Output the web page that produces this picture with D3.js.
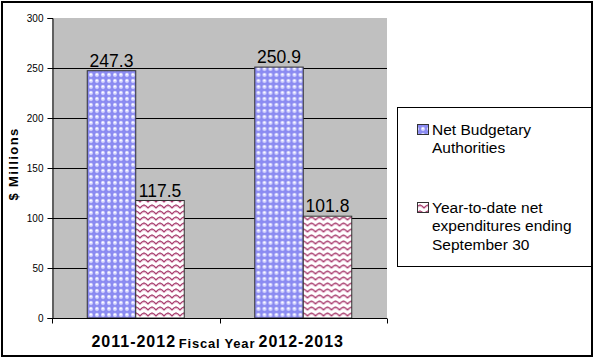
<!DOCTYPE html>
<html>
<head>
<meta charset="utf-8">
<script src="https://cdn.jsdelivr.net/npm/d3@7"></script>
<style>
  html, body { margin: 0; padding: 0; background: #ffffff; }
  svg { display: block; font-family: "Liberation Sans", Arial, sans-serif; }
</style>
</head>
<body>
<svg id="chart" width="595" height="360"></svg>
<script>
const categories = ["2011-2012", "2012-2013"];
const seriesNames = ["Net Budgetary Authorities", "Year-to-date net expenditures ending September 30"];
const netBudgetary = [247.3, 250.9];
const ytdExpenditures = [117.5, 101.8];
const yTicks = [0, 50, 100, 150, 200, 250, 300];
const legendLines = [["Net Budgetary", "Authorities"], ["Year-to-date net", "expenditures ending", "September 30"]];

const svg = d3.select("#chart");
const defs = svg.append("defs");

// Blue circle pattern
const pb = defs.append("pattern").attr("id", "pBlue").attr("patternUnits", "userSpaceOnUse")
  .attr("width", 6).attr("height", 6);
pb.append("rect").attr("width", 6).attr("height", 6).attr("fill", "#8c8cf2");
pb.append("circle").attr("cx", 3).attr("cy", 3).attr("r", 2.4).attr("fill", "#d4d4ff").attr("stroke", "#7070e8").attr("stroke-width", 0.5);
pb.append("rect").attr("x", 1.8).attr("y", 1.6).attr("width", 2).attr("height", 1.6).attr("fill", "#ffffff");

// Red zigzag pattern
const pr = defs.append("pattern").attr("id", "pRed").attr("patternUnits", "userSpaceOnUse")
  .attr("width", 8).attr("height", 6);
pr.append("rect").attr("width", 8).attr("height", 6).attr("fill", "#ffffff");
pr.append("path").attr("d", "M0,4 L2,2 L4,1 L6,2 L8,4").attr("fill", "none")
  .attr("stroke", "#a8406f").attr("stroke-width", 1.3);
pr.append("path").attr("d", "M0,5 L2,3.2 L4,2.2 L6,3.2 L8,5").attr("fill", "none")
  .attr("stroke", "#e0a8c4").attr("stroke-width", 0.8);

const fills = ["url(#pBlue)", "url(#pRed)"];

// Outer frame
svg.append("rect").attr("x", 2).attr("y", 2).attr("width", 590).attr("height", 354)
  .attr("fill", "#ffffff").attr("stroke", "#000").attr("stroke-width", 2);

const plot = { left: 52, right: 387, top: 18, bottom: 318 };

const x0 = d3.scaleBand().domain(categories).range([plot.left, plot.right]).padding(0);
const x1 = d3.scaleBand().domain(seriesNames).range([0, x0.bandwidth()]).paddingInner(0).paddingOuter(0.727);
const y = d3.scaleLinear().domain([0, 300]).range([plot.bottom, plot.top]);

// Plot background
svg.append("rect").attr("x", plot.left).attr("y", plot.top)
  .attr("width", plot.right - plot.left).attr("height", plot.bottom - plot.top)
  .attr("fill", "#c0c0c0");

// Gridlines
svg.append("g").selectAll("line").data(yTicks.filter(t => t > 0 && t < 300)).join("line")
  .attr("x1", plot.left).attr("x2", plot.right)
  .attr("y1", d => Math.round(y(d)) + 0.5).attr("y2", d => Math.round(y(d)) + 0.5)
  .attr("stroke", "#000").attr("stroke-width", 1);

// Bars
const data = categories.map((c, i) => ({ cat: c, vals: [netBudgetary[i], ytdExpenditures[i]] }));
const groups = svg.append("g").selectAll("g").data(data).join("g")
  .attr("transform", d => `translate(${x0(d.cat)},0)`);
groups.selectAll("rect").data(d => d.vals.map((v, j) => ({ v, s: seriesNames[j], j }))).join("rect")
  .attr("x", d => x1(d.s)).attr("width", x1.bandwidth())
  .attr("y", d => y(d.v)).attr("height", d => y(0) - y(d.v))
  .attr("fill", d => fills[d.j]).attr("stroke", "#333").attr("stroke-width", 1);
groups.selectAll("text").data(d => d.vals.map((v, j) => ({ v, s: seriesNames[j], j }))).join("text")
  .attr("x", d => x1(d.s) + x1.bandwidth() / 2).attr("y", d => y(d.v) - 4)
  .attr("text-anchor", "middle").attr("font-size", 17.5).attr("fill", "#000")
  .text(d => d3.format(".1f")(d.v));

// Y axis
const yAxis = d3.axisLeft(y).tickValues(yTicks).tickSize(5).tickPadding(4);
const gy = svg.append("g").attr("transform", `translate(${plot.left + 0.5},0)`).call(yAxis);
gy.select(".domain").attr("stroke", "#000");
gy.selectAll(".tick line").attr("stroke", "#000");
gy.selectAll(".tick text").attr("font-size", 10).attr("fill", "#000")
  .attr("font-family", "'Liberation Sans', Arial, sans-serif");

// X axis
const gx = svg.append("g").attr("transform", `translate(0,${plot.bottom + 0.5})`);
gx.append("line").attr("x1", plot.left).attr("x2", plot.right).attr("stroke", "#000");
gx.selectAll("line.tk").data([plot.left, x0(categories[1]), plot.right]).join("line").attr("class", "tk")
  .attr("x1", d => Math.round(d) + 0.5).attr("x2", d => Math.round(d) + 0.5)
  .attr("y1", 0).attr("y2", 5).attr("stroke", "#000");
gx.selectAll("text").data(categories).join("text")
  .attr("x", d => x0(d) + x0.bandwidth() / 2 - 2).attr("y", 28)
  .attr("text-anchor", "middle").attr("font-size", 16).attr("font-weight", "bold")
  .attr("letter-spacing", "1px").attr("fill", "#000").text(d => d);

// Axis titles
svg.append("text").attr("x", 217).attr("y", 348).attr("text-anchor", "middle")
  .attr("font-size", 13).attr("font-weight", "bold").attr("letter-spacing", "0.8px").text("Fiscal Year");
svg.append("text").attr("transform", "translate(18,164) rotate(-90)").attr("text-anchor", "middle")
  .attr("font-size", 13).attr("font-weight", "bold").attr("letter-spacing", "1.4px").text("$ Millions");

// Legend
const lg = svg.append("g");
lg.append("rect").attr("x", 397.5).attr("y", 107.5).attr("width", 194).attr("height", 159)
  .attr("fill", "#fff").attr("stroke", "#000").attr("stroke-width", 1);
const entryY = [135, 213];
seriesNames.forEach((s, i) => {
  lg.append("rect").attr("x", 417.5).attr("y", entryY[i] - 10.5).attr("width", 11).attr("height", 10)
    .attr("fill", fills[i]).attr("stroke", "#333").attr("stroke-width", 1);
  const t = lg.append("text").attr("x", 432).attr("y", entryY[i]).attr("font-size", 15.5).attr("fill", "#000");
  legendLines[i].forEach((ln, k) => {
    t.append("tspan").attr("x", 432).attr("dy", k === 0 ? 0 : 18.3).text(ln);
  });
});
</script>
</body>
</html>
